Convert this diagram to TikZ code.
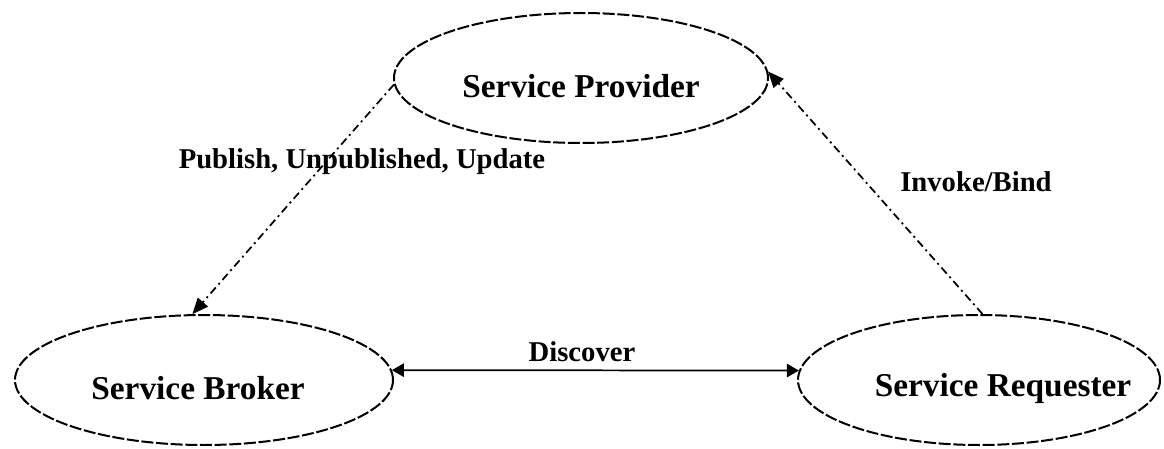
\documentclass[tikz,border=0pt]{standalone}
\usepackage{fontspec}
\setmainfont{Liberation Serif}
\usetikzlibrary{shapes.geometric,arrows.meta}
\tikzset{
  role/.style={ellipse, draw, line width=1.5pt, inner sep=0pt,
    dash pattern=on 9pt off 2pt},
  roletext/.style={font=\fontsize{25}{28}\selectfont\bfseries, inner sep=0pt},
  flowtext/.style={font=\fontsize{21.5}{24}\selectfont\bfseries, inner sep=0pt},
  flow/.style={line width=1.3pt, dash pattern=on 6pt off 3pt on 1.5pt off 3pt,
    -{Triangle[length=12pt,width=10pt]}},
  solidflow/.style={line width=1.3pt,
    {Triangle[length=9pt,width=10pt]}-{Triangle[length=9pt,width=10pt]}}
}
\begin{document}
\begin{tikzpicture}[x=0.75pt,y=-0.75pt]
  \useasboundingbox (0,0) rectangle (1164,449);

  % the three roles
  \node[role, minimum width=280.5pt, minimum height=97.5pt] (prov) at (581,78) {};
  \node[role, minimum width=283.5pt, minimum height=97.5pt] (brok) at (204,380) {};
  \node[role, minimum width=271.5pt, minimum height=97.5pt] (req) at (979,380) {};

  \node[roletext] (provtxt) at (581,86) {Service Provider};
  \node[roletext] (broktxt) at (198,388) {Service Broker};
  \node[roletext] (reqtxt) at (1003,388) {Service Requester};

  % interactions
  \draw[flow] (prov.182) -- (brok.100);
  \draw[flow] (req.87) -- (prov.2);
  \draw[solidflow] (brok.3) -- (req.177);

  \node[flowtext] (pubtxt) at (362,162) {Publish, Unpublished, Update};
  \node[flowtext] (invtxt) at (976,182) {Invoke/Bind};
  \node[flowtext] (distxt) at (582,352) {Discover};
\end{tikzpicture}
\end{document}
